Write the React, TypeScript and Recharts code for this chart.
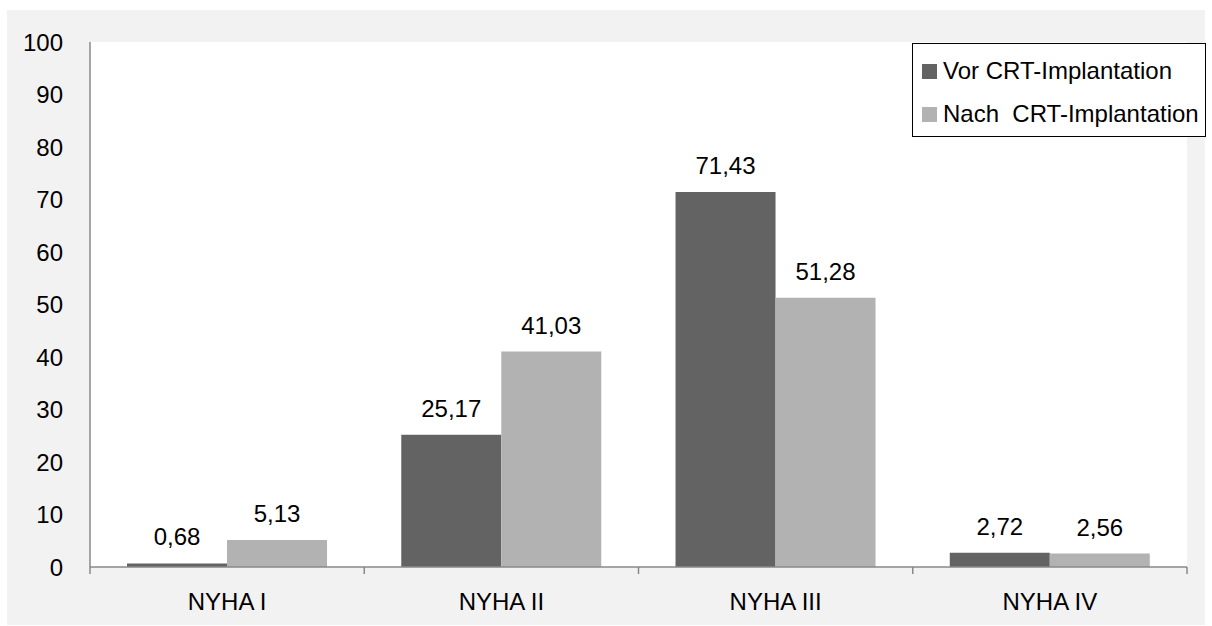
import React from 'react';
import { BarChart, Bar, XAxis, YAxis, CartesianGrid, Legend, LabelList } from 'recharts';

const categories = ['NYHA I', 'NYHA II', 'NYHA III', 'NYHA IV'];
const vorValues = [0.68, 25.17, 71.43, 2.72];
const nachValues = [5.13, 41.03, 51.28, 2.56];
const yTicks = [0, 10, 20, 30, 40, 50, 60, 70, 80, 90, 100];

const seriesOrder = ['vor', 'nach'];
const seriesNames = { vor: 'Vor CRT-Implantation', nach: 'Nach  CRT-Implantation' };
const COLORS = { vor: '#636363', nach: '#b2b2b2' };
const FONT = '"Liberation Sans", Arial, sans-serif';
const AXIS = '#898989';

const data = categories.map((name, i) => ({ name, vor: vorValues[i], nach: nachValues[i] }));

const fmt = (v: any) => Number(v).toFixed(2).replace('.', ',');

function XTick(props: any) {
  const { x, y, payload, index } = props;
  const half = payload?.offset ?? 0;
  const y0 = y - 26;
  return (
    <g>
      <line x1={x - half} x2={x - half} y1={y0} y2={y0 + 7} stroke={AXIS} strokeWidth={1.5} />
      {index === categories.length - 1 && (
        <line x1={x + half} x2={x + half} y1={y0} y2={y0 + 7} stroke={AXIS} strokeWidth={1.5} />
      )}
      <text x={x} y={y} dy="0.71em" textAnchor="middle" fill="#000" fontSize={24} fontFamily={FONT}>
        {payload.value}
      </text>
    </g>
  );
}

function LegendBox(props: any) {
  const items = [...(props.payload || [])].sort(
    (a: any, b: any) => seriesOrder.indexOf(a.dataKey) - seriesOrder.indexOf(b.dataKey)
  );
  return (
    <div
      style={{
        width: 292,
        height: 92,
        border: '1px solid #000',
        background: '#fff',
        fontFamily: FONT,
        fontSize: 24,
        color: '#000',
        position: 'relative',
      }}
    >
      {items.map((it: any, i: number) => (
        <div
          key={it.value}
          style={{ position: 'absolute', left: 9, top: 13 + i * 43, height: 28, display: 'flex', alignItems: 'center', whiteSpace: 'pre' }}
        >
          <span style={{ width: 15, height: 15, background: it.color, display: 'inline-block', marginRight: 6 }} />
          <span>{it.value}</span>
        </div>
      ))}
    </div>
  );
}

export default function App() {
  return (
    <div style={{ position: 'absolute', left: 7, top: 10, width: 1198, height: 615, background: '#f2f2f2' }}>
      <BarChart
        width={1198}
        height={615}
        data={data}
        margin={{ top: 32, right: 18, bottom: 18, left: 23 }}
        barCategoryGap="13.5%"
        barGap={0}
      >
        <CartesianGrid horizontal={false} vertical={false} fill="#ffffff" />
        <XAxis
          dataKey="name"
          height={40}
          axisLine={{ stroke: AXIS, strokeWidth: 1.5 }}
          tickLine={false}
          tickSize={7}
          tickMargin={19}
          tick={<XTick />}
          interval={0}
        />
        <YAxis
          width={60}
          domain={[0, 100]}
          ticks={yTicks}
          interval={0}
          axisLine={{ stroke: AXIS, strokeWidth: 1.5 }}
          tickLine={false}
          tickSize={0}
          tickMargin={27}
          tick={{ fill: '#000', fontSize: 24, fontFamily: FONT }}
        />
        <Legend
          layout="vertical"
          align="center"
          verticalAlign="middle"
          wrapperStyle={{ top: 33, left: 905, width: 294, height: 94 }}
          content={<LegendBox />}
        />
        <Bar dataKey="vor" name={seriesNames.vor} fill={COLORS.vor} isAnimationActive={false}>
          <LabelList dataKey="vor" position="top" offset={18} formatter={fmt} fill="#000" fontSize={24} fontFamily={FONT} />
        </Bar>
        <Bar dataKey="nach" name={seriesNames.nach} fill={COLORS.nach} isAnimationActive={false}>
          <LabelList dataKey="nach" position="top" offset={18} formatter={fmt} fill="#000" fontSize={24} fontFamily={FONT} />
        </Bar>
      </BarChart>
    </div>
  );
}
